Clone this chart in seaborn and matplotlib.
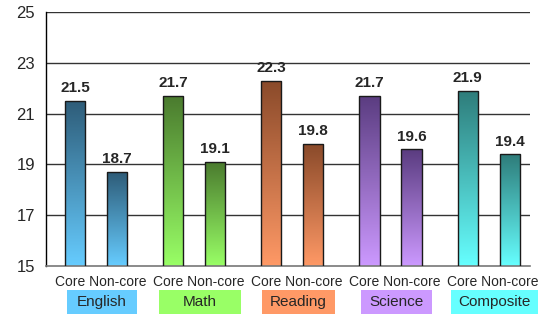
import numpy as np
import pandas as pd
import matplotlib
matplotlib.use("Agg")
import matplotlib.pyplot as plt
import matplotlib.transforms as mtransforms
from matplotlib.colors import LinearSegmentedColormap
from matplotlib.patches import Rectangle
import seaborn as sns

# data
subjects = ["English", "Math", "Reading", "Science", "Composite"]
groups = ["Core", "Non-core"]
core_scores = [21.5, 21.7, 22.3, 21.7, 21.9]
noncore_scores = [18.7, 19.1, 19.8, 19.6, 19.4]

# colours: light (bottom / label box) and dark (top of bar)
light_cols = ["#66CCFF", "#99FF66", "#FF9966", "#CC99FF", "#66FFFF"]
dark_cols = ["#2E5C78", "#4A7A2E", "#8A4A2A", "#5A3C80", "#2E7C7A"]
box_widths = [0.72, 0.84, 0.74, 0.73, 0.88]

df = pd.DataFrame({
    "subject": subjects * 2,
    "group": ["Core"] * 5 + ["Non-core"] * 5,
    "score": core_scores + noncore_scores,
})

sns.set_style("white")
plt.rcParams["font.family"] = ["Liberation Sans", "DejaVu Sans"]

fig = plt.figure(figsize=(5.48, 3.14), dpi=100)
ax = fig.add_axes([0.084, 0.153, 0.883, 0.809])

sns.barplot(data=df, x="subject", y="score", hue="group", order=subjects,
            hue_order=groups, width=0.855, gap=0.52, ax=ax, legend=False,
            color="white", errorbar=None)

ax.set_ylim(15, 25)
ax.set_xlim(-0.51, 4.42)
ax.set_yticks([15, 17, 19, 21, 23, 25])
ax.tick_params(axis="y", labelsize=12, length=0, pad=8)
ax.set_xticks([])
ax.set_xlabel("")
ax.set_ylabel("")
for y in [17, 19, 21, 23, 25]:
    ax.axhline(y, color="#333333", lw=1, zorder=0)
sns.despine(ax=ax, top=True, right=True)
ax.spines["left"].set_color("black")
ax.spines["bottom"].set_color("#777777")
ax.spines["left"].set_linewidth(1)
ax.spines["bottom"].set_linewidth(1.2)

grad = np.linspace(0, 1, 256).reshape(-1, 1)
trans = mtransforms.blended_transform_factory(ax.transData, ax.transAxes)

# seaborn orders patches by hue level, then by category
patches = [p for p in ax.patches if p.get_height() > 0]
for i, p in enumerate(patches):
    s = i % 5
    g = i // 5
    x0 = p.get_x()
    w = p.get_width()
    h = p.get_height()
    y0 = p.get_y()
    cmap = LinearSegmentedColormap.from_list("g", [light_cols[s], dark_cols[s]])
    im = ax.imshow(grad, cmap=cmap, aspect="auto", origin="lower",
                   extent=(x0, x0 + w, 15, y0 + h), zorder=2)
    im.set_clip_path(p)
    p.set_facecolor("none")
    p.set_edgecolor("#1a1a1a")
    p.set_linewidth(1)
    p.set_zorder(3)
    val = core_scores[s] if g == 0 else noncore_scores[s]
    ax.annotate(f"{val:.1f}", (x0 + w / 2, y0 + h), xytext=(0, 4),
                textcoords="offset points", ha="center", va="bottom",
                fontsize=11, fontweight="bold")

for s, name in enumerate(subjects):
    ax.text(s + 0.045, -0.063, " ".join(groups), transform=trans,
            ha="center", va="center", fontsize=10, clip_on=False)
    bw = box_widths[s]
    cx = s + 0.06
    ax.add_patch(Rectangle((cx - bw / 2, -0.189), bw, 0.095, transform=trans,
                           facecolor=light_cols[s], edgecolor="none",
                           clip_on=False))
    ax.text(cx, -0.143, name, transform=trans, ha="center", va="center",
            fontsize=11, clip_on=False)

ax.set_xlim(-0.51, 4.42)
ax.set_ylim(15, 25)
fig.savefig("out.png", dpi=100)
